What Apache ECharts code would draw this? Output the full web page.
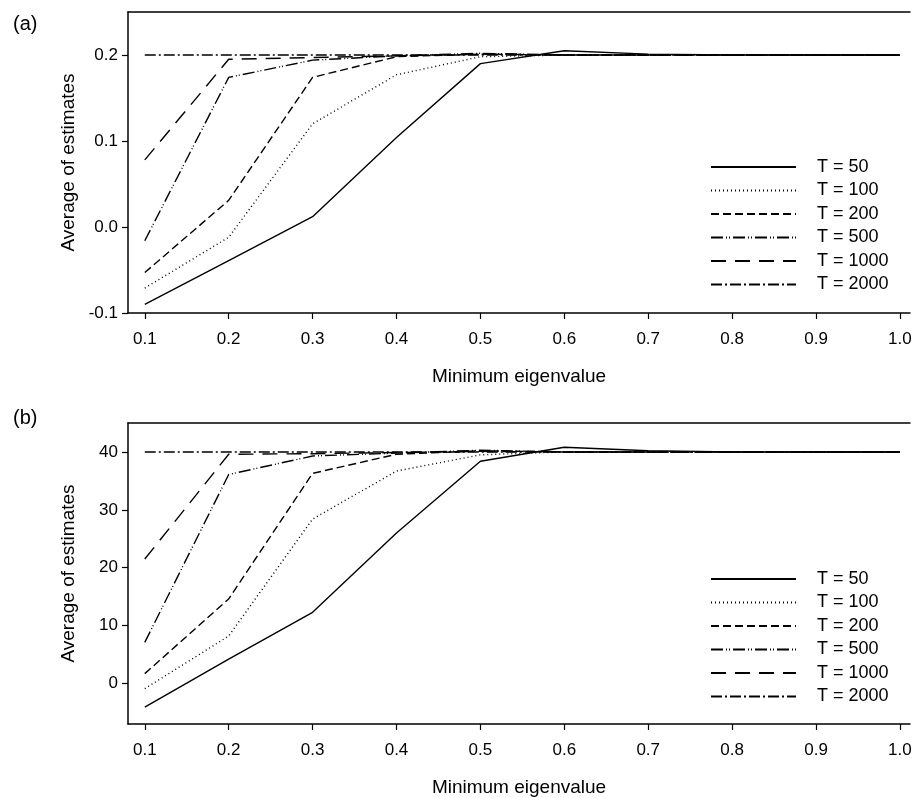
<!DOCTYPE html>
<html>
<head>
<meta charset="utf-8">
<script src="https://cdn.jsdelivr.net/npm/echarts@6/dist/echarts.min.js"></script>
<style>
  html, body { margin: 0; padding: 0; background: #fff; }
  #chart { width: 916px; height: 798px; }
</style>
</head>
<body>
<div id="chart"></div>
<script>
// 数据
const eigen = [0.1, 0.2, 0.3, 0.4, 0.5, 0.6, 0.7, 0.8, 0.9, 1.0];
const seriesNames = ['T = 50', 'T = 100', 'T = 200', 'T = 500', 'T = 1000', 'T = 2000'];

// (a) 面板
const a_T50   = [-0.090, -0.039, 0.012, 0.104, 0.190, 0.205, 0.201, 0.200, 0.200, 0.200];
const a_T100  = [-0.071, -0.012, 0.120, 0.177, 0.198, 0.200, 0.200, 0.200, 0.200, 0.200];
const a_T200  = [-0.053, 0.031, 0.174, 0.198, 0.201, 0.200, 0.200, 0.200, 0.200, 0.200];
const a_T500  = [-0.016, 0.174, 0.194, 0.199, 0.202, 0.200, 0.200, 0.200, 0.200, 0.200];
const a_T1000 = [0.078, 0.195, 0.197, 0.199, 0.201, 0.200, 0.200, 0.200, 0.200, 0.200];
const a_T2000 = [0.200, 0.200, 0.200, 0.200, 0.200, 0.200, 0.200, 0.200, 0.200, 0.200];

// (b) 面板
const b_T50   = [-4.1, 4.2, 12.3, 26.0, 38.4, 40.8, 40.2, 40.0, 40.0, 40.0];
const b_T100  = [-0.9, 8.2, 28.4, 36.7, 39.5, 40.0, 40.0, 40.0, 40.0, 40.0];
const b_T200  = [1.7, 14.6, 36.3, 39.6, 40.2, 40.0, 40.0, 40.0, 40.0, 40.0];
const b_T500  = [7.1, 36.1, 39.3, 39.8, 40.3, 40.0, 40.0, 40.0, 40.0, 40.0];
const b_T1000 = [21.5, 39.6, 39.7, 39.9, 40.1, 40.0, 40.0, 40.0, 40.0, 40.0];
const b_T2000 = [40.0, 40.0, 40.0, 40.0, 40.0, 40.0, 40.0, 40.0, 40.0, 40.0];

const xTicks = [0.1, 0.2, 0.3, 0.4, 0.5, 0.6, 0.7, 0.8, 0.9, 1.0];
const yTicksA = [-0.1, 0.0, 0.1, 0.2];
const yTicksB = [0, 10, 20, 30, 40];

const panelA = [a_T50, a_T100, a_T200, a_T500, a_T1000, a_T2000];
const panelB = [b_T50, b_T100, b_T200, b_T500, b_T1000, b_T2000];

// 线型: 实线, 点线, 虚线, 点划点, 长虚线, 点划线
const dashes = ['solid', [1, 3], [8, 4], [12, 3, 1, 2, 1, 3], [15, 9], [11, 3, 2, 3]];

const font = 'Liberation Sans, Arial, sans-serif';
const black = '#000';

function xAxisFor(gridIndex) {
    return {
        type: 'value', gridIndex: gridIndex, min: 0.08, max: 1.012,
        name: 'Minimum eigenvalue',
        nameLocation: 'middle', nameGap: 54,
        nameTextStyle: { color: black, fontSize: 19, fontFamily: font },
        axisLine: { show: true, onZero: false, lineStyle: { color: black, width: 1.5 } },
        axisTick: { show: true, length: 6, customValues: xTicks, lineStyle: { color: black, width: 1.2 } },
        axisLabel: { customValues: xTicks, color: black, fontSize: 17, fontFamily: font, margin: 18,
            formatter: v => v.toFixed(1) },
        splitLine: { show: false }
    };
}

// 上边框
function topAxis(gridIndex) {
    return {
        type: 'value', gridIndex: gridIndex, position: 'top', min: 0.08, max: 1.012,
        axisLine: { show: true, onZero: false, lineStyle: { color: black, width: 1.5 } },
        axisTick: { show: false }, axisLabel: { show: false }, splitLine: { show: false }
    };
}

function yAxisFor(gridIndex, min, max, ticks, digits) {
    return {
        type: 'value', gridIndex: gridIndex, min: min, max: max,
        name: 'Average of estimates', nameLocation: 'middle', nameGap: 50, nameRotate: 90,
        nameTextStyle: { color: black, fontSize: 19, fontFamily: font },
        axisLine: { show: true, onZero: false, lineStyle: { color: black, width: 1.5 } },
        axisTick: { show: true, length: 6, customValues: ticks, lineStyle: { color: black, width: 1.2 } },
        axisLabel: { customValues: ticks, color: black, fontSize: 17, fontFamily: font, margin: 10,
            formatter: v => v.toFixed(digits) },
        splitLine: { show: false }
    };
}

function makeSeries(panel, xIdx, yIdx) {
    return panel.map((vals, i) => ({
        name: seriesNames[i],
        type: 'line',
        xAxisIndex: xIdx, yAxisIndex: yIdx,
        symbol: 'none',
        smooth: false,
        itemStyle: { color: black },
        lineStyle: { color: black, width: 1.4, type: dashes[i] },
        data: eigen.map((x, k) => [x, vals[k]])
    }));
}

function legendFor(top) {
    return {
        data: seriesNames, orient: 'vertical', left: 705, top: top,
        itemWidth: 85, itemHeight: 18, itemGap: 5.5, selectedMode: false,
        itemStyle: { opacity: 0 },
        textStyle: { color: black, fontSize: 18, fontFamily: font, padding: [0, 0, 0, 16] }
    };
}

let myChart = echarts.init(document.getElementById('chart'));
let chartOptions = {
    backgroundColor: '#fff',
    animation: false,
    title: [
        { text: '(a)', left: 8, top: 9, textStyle: { color: black, fontSize: 20, fontWeight: 'normal', fontFamily: font } },
        { text: '(b)', left: 8, top: 403, textStyle: { color: black, fontSize: 20, fontWeight: 'normal', fontFamily: font } }
    ],
    grid: [
        { left: 128, top: 12, right: 6, height: 301 },
        { left: 128, top: 423, right: 6, height: 301 }
    ],
    legend: [legendFor(153), legendFor(565)],
    xAxis: [xAxisFor(0), xAxisFor(1), topAxis(0), topAxis(1)],
    yAxis: [
        yAxisFor(0, -0.1, 0.25, yTicksA, 1),
        yAxisFor(1, -7, 45, yTicksB, 0)
    ],
    series: makeSeries(panelA, 0, 0).concat(makeSeries(panelB, 1, 1))
};
myChart.setOption(chartOptions, true);
</script>
</body>
</html>
